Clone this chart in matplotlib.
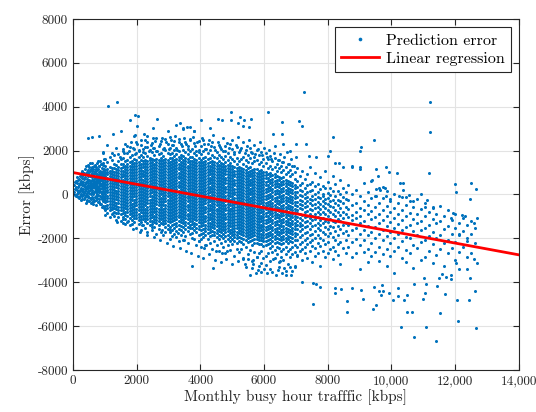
import matplotlib
matplotlib.use("Agg")
import matplotlib.pyplot as plt
import numpy as np

# scatter data, grouped in columns:
# (traffic in kbps, list of errors in tens of kbps)
left_cols = [
    (40, [12, 41]), (65, [27, 58, -4]), (90, [33, -8, 61]), (140, [22, 53, 4, 79]),
    (165, [36, 9, 67, -13]), (190, [44, 13, -17, 71]), (220, [51, 19, -6, 84]),
    (250, [62, 29, 3, 88, -26]), (275, [41, 14, 73, -21, 102]), (300, [18, 49, 82, -9, 109]),
    (325, [57, 26, 94, -4, 11]), (350, [38, 71, 8, -19, 97]), (380, [47, 78, 16, -11, 118, 33]),
    (410, [59, 27, 92, -3, -37, 128]), (435, [72, 39, 6, 104, -24, 56]),
    (460, [51, 83, 17, -12, 112]), (485, [28, 61, 93, -7, 134, 44]),
    (510, [68, 36, 7, 101, -28, 123]), (540, [53, 84, 21, -16, 113, 37, 142]),
    (570, [31, 62, 88, 2, -21, 118, -41]), (590, [67, 41, 97, 12, -33, 126]),
    (610, [48, 79, 19, 109, -11, 142]), (635, [36, 63, 89, 4, -19, 117, 51]),
    (660, [42, 71, 98, 9, -31, 131, 57]), (685, [77, 48, 106, 18, -12, 136, 29]),
    (710, [63, 91, 22, 117, -8, 37, -49]), (735, [43, 69, 96, 124, 9, -27, 57]),
    (760, [28, 53, 81, 112, 4, -18, 143, 69]), (785, [58, 87, 31, 118, -4, 152, 14, -36]),
    (810, [72, 101, 39, 11, 129, -33, 87]), (835, [39, 66, 94, 128, 17, -21, 81, 53]),
    (860, [47, 78, 108, 23, -7, 61, 152, -42]), (885, [71, 99, 46, 13, 137, -13, 84, -44]),
    (910, [39, 68, 92, 121, 3, -22, 29, -58]), (935, [52, 77, 109, 26, -6, 143, 64, 37]),
    (960, [58, 83, 103, 134, 14, -28, 42, 188, -51]),
    (985, [44, 69, 93, 118, 8, -17, 162, 31, -63]),
]

core_cols = [
    (1010, [163, 131, 112, 98, 85, 71, 58, 44, 31, 17, 4, -9, -23, -36, -51, -68, -92]),
    (1080, [147, 118, 104, 91, 77, 62, 49, 36, 22, 9, -5, -18, -32, -47, -61, -84, 224]),
    (1150, [172, 124, 109, 96, 82, 67, 54, 40, 27, 13, -1, -14, -28, -42, -57, -73, -101]),
    (1220, [155, 121, 106, 93, 80, 66, 51, 38, 24, 11, -3, -16, -30, -45, -59, -66, -88, 191]),
    (1290, [178, 141, 119, 103, 90, 76, 63, 48, 35, 21, 7, -6, -20, -33, -48, -62, -79, -97]),
    (1360, [134, 115, 101, 87, 74, 59, 46, 32, 18, 5, -8, -22, -37, -51, -64, -83, -118, 212]),
    (1430, [183, 152, 127, 111, 98, 84, 69, 56, 42, 28, 15, 1, -12, -26, -41, -55, -70, -86, -104]),
    (1500, [162, 139, 122, 108, 94, 81, 67, 52, 39, 25, 12, -2, -16, -29, -44, -58, -73, -91, -121]),
    (1570, [198, 168, 137, 123, 109, 95, 82, 68, 53, 40, 26, 13, -1, -15, -30, -43, -57, -72, -86, -103, -132]),
    (1640, [153, 131, 117, 102, 89, 75, 61, 47, 34, 20, 6, -7, -21, -35, -49, -63, -78, -93, -112, 231]),
    (1710, [189, 159, 141, 126, 113, 99, 85, 71, 58, 44, 30, 17, 3, -10, -24, -38, -53, -67, -82, -97, -124]),
    (1780, [216, 172, 146, 132, 118, 104, 90, 77, 63, 49, 36, 22, 8, -6, -19, -33, -48, -62, -76, -91, -108, -141]),
    (1850, [181, 152, 138, 124, 110, 96, 83, 69, 55, 41, 28, 14, 0, -13, -27, -42, -56, -71, -85, -99, -117, -134]),
    (1920, [207, 163, 143, 129, 115, 101, 88, 74, 60, 46, 33, 19, 5, -9, -23, -37, -51, -66, -80, -94, -109, -126, 268]),
    (1990, [238, 191, 158, 144, 130, 116, 102, 89, 75, 61, 47, 34, 20, 6, -8, -22, -36, -50, -64, -79, -93, -107, -151]),
    (2060, [196, 171, 149, 135, 121, 107, 94, 80, 66, 52, 39, 25, 11, -3, -17, -31, -45, -59, -73, -88, -102, -118, -133]),
    (2130, [227, 182, 156, 141, 127, 113, 99, 86, 72, 58, 44, 31, 17, 3, -11, -25, -39, -53, -68, -82, -96, -111, -127, -162]),
    (2200, [209, 169, 151, 137, 123, 109, 95, 82, 68, 54, 40, 27, 13, -1, -15, -29, -43, -57, -71, -86, -100, -114, -139]),
    (2270, [247, 188, 159, 145, 131, 117, 103, 90, 76, 62, 48, 35, 21, 7, -7, -21, -35, -49, -64, -78, -92, -106, -121, -152]),
    (2340, [218, 176, 153, 139, 125, 111, 97, 84, 70, 56, 42, 29, 15, 1, -13, -27, -41, -55, -70, -84, -98, -113, -129, -171]),
    (2410, [201, 166, 157, 143, 129, 115, 101, 88, 74, 60, 46, 33, 19, 5, -9, -23, -37, -51, -66, -80, -94, -108, -123, -141]),
    (2480, [236, 193, 161, 147, 133, 119, 105, 92, 78, 64, 50, 37, 23, 9, -5, -19, -33, -47, -62, -76, -90, -104, -119, -134, -163]),
    (2550, [212, 179, 155, 141, 127, 113, 99, 86, 72, 58, 44, 31, 17, 3, -11, -25, -39, -53, -68, -82, -96, -110, -124, -148]),
    (2620, [258, 198, 163, 149, 135, 121, 107, 94, 80, 66, 52, 39, 25, 11, -3, -17, -31, -45, -60, -74, -88, -102, -117, -131, -178]),
    (2690, [221, 183, 158, 144, 130, 116, 102, 89, 75, 61, 47, 34, 20, 6, -8, -22, -36, -50, -65, -79, -93, -107, -122, -138, -157]),
    (2760, [243, 187, 166, 152, 138, 124, 110, 97, 83, 69, 55, 42, 28, 14, 0, -14, -28, -42, -57, -71, -85, -99, -114, -129, -169]),
    (2830, [208, 176, 159, 145, 131, 117, 103, 90, 76, 62, 48, 35, 21, 7, -7, -21, -35, -49, -64, -78, -92, -106, -121, -136, -186]),
    (2900, [251, 201, 162, 148, 134, 120, 106, 93, 79, 65, 51, 38, 24, 10, -4, -18, -32, -46, -61, -75, -89, -103, -118, -132, -147, -173]),
    (2970, [229, 188, 157, 143, 129, 115, 101, 88, 74, 60, 46, 33, 19, 5, -9, -23, -37, -51, -66, -80, -94, -108, -123, -137, -158]),
    (3040, [262, 214, 183, 164, 149, 135, 121, 108, 94, 80, 67, 53, 39, 26, 12, -2, -16, -29, -43, -57, -70, -84, -98, -111, -126, -147, -171, -203]),
    (3110, [226, 191, 168, 152, 138, 124, 111, 97, 83, 70, 56, 42, 29, 15, 1, -13, -26, -40, -54, -67, -81, -95, -108, -123, -141, -163, -188]),
    (3180, [244, 203, 176, 157, 143, 129, 116, 102, 88, 75, 61, 47, 34, 20, 6, -8, -21, -35, -49, -62, -76, -90, -103, -118, -135, -152, -179]),
    (3250, [213, 186, 162, 147, 133, 120, 106, 92, 79, 65, 51, 38, 24, 10, -4, -17, -31, -45, -58, -72, -86, -99, -113, -130, -146, -167, -194, 318]),
    (3320, [251, 197, 171, 155, 141, 127, 114, 100, 86, 73, 59, 45, 32, 18, 4, -10, -23, -37, -51, -64, -78, -92, -105, -121, -138, -158, -212]),
    (3390, [232, 181, 165, 149, 135, 122, 108, 94, 81, 67, 53, 40, 26, 12, -2, -15, -29, -43, -56, -70, -84, -97, -111, -126, -144, -161, -184]),
    (3460, [204, 174, 158, 144, 130, 117, 103, 89, 76, 62, 48, 35, 21, 7, -7, -20, -34, -48, -61, -75, -89, -102, -116, -132, -149, -171, -207, 302]),
    (3530, [241, 193, 167, 151, 137, 124, 110, 96, 83, 69, 55, 42, 28, 14, 0, -13, -27, -41, -54, -68, -82, -95, -109, -124, -140, -157, -189]),
    (3600, [219, 183, 163, 146, 132, 119, 105, 91, 78, 64, 50, 37, 23, 9, -5, -18, -32, -46, -59, -73, -87, -100, -114, -129, -147, -166, -223]),
    (3670, [253, 199, 169, 153, 139, 126, 112, 98, 85, 71, 57, 44, 30, 16, 2, -11, -25, -39, -52, -66, -80, -93, -107, -122, -138, -154, -178]),
    (3740, [208, 172, 154, 140, 126, 113, 99, 85, 72, 58, 44, 31, 17, 3, -11, -24, -38, -52, -65, -79, -93, -106, -120, -136, -153, -174, -197]),
    (3810, [236, 189, 161, 147, 133, 120, 106, 92, 79, 65, 51, 38, 24, 10, -4, -17, -31, -45, -58, -72, -86, -99, -113, -128, -144, -162, -204, 291]),
    (3880, [199, 178, 157, 142, 128, 115, 101, 87, 74, 60, 46, 33, 19, 5, -9, -22, -36, -50, -63, -77, -91, -104, -118, -133, -151, -172, -231]),
    (3950, [243, 192, 164, 148, 134, 121, 107, 93, 80, 66, 52, 39, 25, 11, -3, -16, -30, -44, -57, -71, -85, -98, -112, -127, -142, -159, -183, -214]),
    (4020, [221, 183, 158, 142, 128, 115, 101, 87, 74, 60, 46, 33, 19, 5, -9, -22, -36, -50, -63, -77, -91, -104, -118, -132, -145, -161, -178, -203, -241]),
    (4090, [248, 197, 166, 147, 133, 120, 106, 92, 79, 65, 51, 38, 24, 10, -4, -17, -31, -45, -58, -72, -86, -99, -113, -127, -140, -157, -176, -194]),
    (4160, [207, 172, 151, 137, 123, 110, 96, 82, 69, 55, 41, 28, 14, 0, -14, -27, -41, -55, -68, -82, -96, -109, -123, -137, -152, -168, -187, -229]),
    (4230, [231, 188, 161, 144, 130, 117, 103, 89, 76, 62, 48, 35, 21, 7, -7, -20, -34, -48, -61, -75, -89, -102, -116, -130, -143, -159, -174, -202]),
    (4300, [201, 168, 146, 132, 118, 105, 91, 77, 64, 50, 36, 23, 9, -5, -19, -32, -46, -60, -73, -87, -101, -114, -128, -142, -156, -171, -190, -221, 302]),
    (4370, [238, 181, 154, 139, 125, 112, 98, 84, 71, 57, 43, 30, 16, 2, -12, -25, -39, -53, -66, -80, -94, -107, -121, -135, -149, -165, -183, -247]),
    (4440, [216, 173, 150, 135, 121, 108, 94, 80, 67, 53, 39, 26, 12, -2, -16, -29, -43, -57, -70, -84, -98, -111, -125, -139, -154, -170, -186, -211]),
    (4510, [192, 164, 143, 128, 114, 101, 87, 73, 60, 46, 32, 19, 5, -9, -23, -36, -50, -64, -77, -91, -105, -118, -132, -146, -160, -177, -193, -232]),
    (4580, [227, 178, 152, 136, 122, 109, 95, 81, 68, 54, 40, 27, 13, -1, -15, -28, -42, -56, -69, -83, -97, -110, -124, -138, -151, -167, -184, -202, -258]),
    (4650, [208, 169, 145, 130, 116, 103, 89, 75, 62, 48, 34, 21, 7, -7, -21, -34, -48, -62, -75, -89, -103, -116, -130, -144, -158, -173, -191, -223]),
    (4720, [196, 161, 139, 124, 110, 97, 83, 69, 56, 42, 28, 15, 1, -13, -27, -40, -54, -68, -81, -95, -109, -122, -136, -150, -164, -181, -199, -241]),
    (4790, [223, 177, 147, 132, 118, 105, 91, 77, 64, 50, 36, 23, 9, -5, -19, -32, -46, -60, -73, -87, -101, -114, -128, -142, -156, -170, -188, -214, -268]),
    (4860, [189, 158, 134, 120, 106, 93, 79, 65, 52, 38, 24, 11, -3, -17, -31, -44, -58, -72, -85, -99, -113, -126, -140, -154, -168, -184, -203, -232]),
    (4930, [228, 172, 143, 128, 114, 101, 87, 73, 60, 46, 32, 19, 5, -9, -23, -36, -50, -64, -77, -91, -105, -118, -132, -146, -160, -175, -193, -211, -251]),
    (5000, [209, 163, 131, 116, 102, 89, 75, 61, 48, 34, 20, 7, -7, -21, -35, -48, -62, -76, -89, -103, -117, -130, -144, -158, -172, -187, -204, -228]),
    (5070, [184, 151, 123, 109, 95, 82, 68, 54, 41, 27, 13, 0, -14, -28, -42, -55, -69, -83, -96, -110, -124, -137, -151, -165, -179, -195, -214, -281]),
    (5140, [218, 168, 137, 119, 105, 92, 78, 64, 51, 37, 23, 10, -4, -18, -32, -45, -59, -73, -86, -100, -114, -127, -141, -155, -169, -183, -199, -223, -247]),
    (5210, [193, 152, 126, 111, 97, 84, 70, 56, 43, 29, 15, 2, -12, -26, -40, -53, -67, -81, -94, -108, -122, -135, -149, -163, -177, -192, -211, -262]),
    (5280, [211, 161, 121, 107, 93, 80, 66, 52, 39, 25, 11, -2, -16, -30, -44, -57, -71, -85, -98, -112, -126, -139, -153, -167, -181, -197, -218, -249]),
    (5350, [172, 141, 117, 103, 89, 76, 62, 48, 35, 21, 7, -6, -20, -34, -48, -61, -75, -89, -102, -116, -130, -143, -157, -171, -185, -202, -227, -293]),
    (5420, [203, 157, 128, 112, 98, 85, 71, 57, 44, 30, 16, 3, -11, -25, -39, -52, -66, -80, -93, -107, -121, -134, -148, -162, -176, -191, -208, -238]),
    (5490, [181, 148, 119, 104, 90, 77, 63, 49, 36, 22, 8, -5, -19, -33, -47, -60, -74, -88, -101, -115, -129, -142, -156, -170, -184, -199, -216, -272]),
    (5560, [214, 166, 124, 109, 95, 82, 68, 54, 41, 27, 13, 0, -14, -28, -42, -55, -69, -83, -96, -110, -124, -137, -151, -165, -179, -193, -211, -252]),
    (5630, [187, 142, 112, 98, 84, 71, 57, 43, 30, 16, 2, -11, -25, -39, -53, -66, -80, -94, -107, -121, -135, -148, -162, -176, -190, -206, -229, -301]),
    (5700, [173, 151, 118, 101, 87, 74, 60, 46, 33, 19, 5, -8, -22, -36, -50, -63, -77, -91, -104, -118, -132, -145, -159, -173, -187, -203, -219, -261]),
    (5770, [201, 159, 114, 99, 85, 72, 58, 44, 31, 17, 3, -10, -24, -38, -52, -65, -79, -93, -106, -120, -134, -147, -161, -175, -189, -204, -223, -283]),
    (5840, [178, 139, 108, 94, 80, 67, 53, 39, 26, 12, -2, -15, -29, -43, -57, -70, -84, -98, -111, -125, -139, -152, -166, -180, -194, -209, -227, -268]),
    (5910, [192, 148, 111, 96, 82, 69, 55, 41, 28, 14, 0, -13, -27, -41, -55, -68, -82, -96, -109, -123, -137, -150, -164, -178, -192, -207, -224, -257, -311]),
    (5980, [163, 131, 101, 88, 74, 61, 47, 33, 20, 6, -8, -21, -35, -49, -63, -76, -90, -104, -117, -131, -145, -158, -172, -186, -200, -214, -233, -289]),
    (6050, [188, 142, 104, 88, 73, 57, 41, 26, 10, -6, -21, -37, -53, -68, -84, -100, -115, -131, -147, -162, -178, -194, -211, -232, -279]),
    (6120, [161, 121, 92, 77, 61, 45, 30, 14, -2, -17, -33, -49, -64, -80, -96, -111, -127, -143, -158, -174, -190, -206, -224, -268]),
    (6190, [177, 132, 98, 82, 66, 51, 35, 19, 4, -12, -28, -43, -59, -75, -90, -106, -122, -137, -153, -169, -184, -201, -219, -243, -302]),
    (6260, [152, 118, 88, 72, 56, 41, 25, 9, -6, -22, -38, -53, -69, -85, -100, -116, -132, -147, -163, -179, -195, -213, -236, -261]),
    (6330, [168, 127, 94, 79, 63, 47, 32, 16, 0, -15, -31, -47, -62, -78, -94, -109, -125, -141, -156, -172, -188, -203, -221, -251, -291]),
    (6400, [141, 109, 84, 68, 53, 37, 21, 6, -10, -26, -41, -57, -73, -88, -104, -120, -135, -151, -167, -182, -198, -216, -238, -273]),
    (6470, [159, 121, 81, 65, 49, 34, 18, 2, -13, -29, -45, -60, -76, -92, -107, -123, -139, -154, -170, -186, -201, -219, -243, -309]),
    (6540, [132, 102, 73, 58, 42, 26, 11, -5, -21, -36, -52, -68, -83, -99, -115, -130, -146, -162, -177, -193, -209, -226, -258, -284]),
    (6610, [149, 113, 78, 62, 46, 31, 15, -1, -16, -32, -48, -63, -79, -95, -110, -126, -142, -157, -173, -189, -204, -222, -247, -298]),
    (6680, [124, 93, 68, 53, 37, 21, 6, -10, -26, -41, -57, -73, -88, -104, -120, -135, -151, -167, -182, -198, -214, -238, -271]),
    (6750, [138, 101, 62, 47, 31, 15, 0, -16, -32, -47, -63, -79, -94, -110, -126, -141, -157, -173, -188, -204, -221, -256, -318]),
    (6820, [113, 84, 58, 42, 27, 11, -5, -20, -36, -52, -67, -83, -99, -114, -130, -146, -161, -177, -193, -212, -249, -287]),
    (6890, [129, 91, 53, 37, 22, 6, -10, -25, -41, -57, -72, -88, -104, -119, -135, -151, -166, -182, -198, -216, -241, -273]),
    (6960, [102, 72, 44, 29, 13, -3, -18, -34, -50, -65, -81, -97, -112, -128, -144, -159, -175, -191, -209, -231, -262, -331]),
]

mid_cols = [
    (7040, [121, 63, 34, 12, -11, -33, -52, -71, -84, -103, -121, -139, -158, -181, -207, -238, -276]),
    (7120, [83, 41, 19, -3, -24, -42, -61, -88, -107, -128, -146, -167, -196, -228, -259]),
    (7200, [109, 52, 14, -8, -29, -47, -68, -93, -118, -137, -158, -186, -217, -249, -297]),
    (7280, [71, 28, 3, -17, -38, -57, -79, -101, -126, -149, -177, -208, -239, -268]),
    (7360, [92, 43, 11, -12, -31, -53, -76, -97, -119, -142, -169, -198, -227, -288]),
    (7440, [127, 48, 17, -19, -41, -66, -88, -109, -131, -158, -187, -216, -257]),
    (7520, [58, 21, -7, -27, -49, -72, -96, -117, -146, -178, -206, -237, -306]),
    (7600, [98, 39, 2, -22, -44, -63, -87, -112, -139, -168, -197, -246, -279]),
    (7680, [47, 12, -13, -34, -58, -81, -101, -128, -152, -186, -219, -266]),
    (7760, [79, 27, -18, -42, -67, -91, -118, -138, -163, -199, -236, -327]),
    (7840, [38, 4, -9, -31, -53, -78, -107, -131, -172, -207, -258]),
    (7920, [107, 29, -21, -39, -62, -89, -121, -148, -179, -226, -287]),
    (8000, [57, 8, -14, -43, -71, -97, -126, -157, -188, -218, -268]),
    (8080, [31, -3, -28, -52, -82, -113, -142, -177, -247]),
    (8160, [86, 18, -23, -58, -87, -119, -149, -196, -238, -296]),
    (8240, [49, -7, -38, -69, -98, -127, -168, -207, -256]),
    (8320, [17, -24, -49, -81, -112, -146, -187, -226, -277]),
    (8400, [68, 3, -31, -61, -93, -121, -158, -217, -318]),
    (8480, [28, -12, -41, -79, -108, -139, -177, -246]),
    (8560, [9, -19, -57, -88, -128, -167, -209, -268]),
]

tail_cols = [
    (8650, [42, -27, -68, -103, -141, -187, -238]), (8770, [129, 4, -48, -92, -118, -161, -218, -287]),
    (8890, [21, -38, -81, -109, -152, -203, -266]), (9010, [118, -7, -61, -97, -131, -178, -229, -338]),
    (9130, [53, -29, -72, -121, -163, -207, -262]), (9250, [12, -47, -89, -142, -186, -248, -307]),
    (9370, [61, -18, -77, -113, -171, -223, -281]), (9490, [-9, -58, -102, -148, -197, -263]),
    (9610, [28, -41, -88, -131, -182, -238, -302]), (9730, [-17, -73, -118, -161, -208, -272]),
    (9850, [14, -52, -99, -143, -188, -247, -328]), (9970, [-28, -82, -127, -171, -223, -279]),
    (10090, [3, -61, -108, -152, -198, -257, -357]), (10210, [-38, -87, -133, -181, -238]),
    (10330, [-12, -69, -117, -163, -213, -291]), (10450, [-48, -98, -149, -192, -251, -308]),
    (10570, [-31, -83, -138, -197, -268]), (10690, [-57, -112, -168, -229, -337]),
    (10810, [-22, -91, -131, -183, -242]), (10930, [-68, -119, -162, -218, -297]),
    (11050, [-41, -97, -152, -207, -283]), (11170, [-79, -138, -191, -258]),
    (11290, [-62, -113, -171, -228, -312]), (11410, [-88, -131, -198, -276]),
    (11530, [-52, -121, -183, -247]), (11650, [-98, -158, -219, -327]),
    (11770, [-71, -142, -208, -268]), (11890, [-118, -179, -242]),
    (12010, [-91, -153, -217, -298]), (12130, [-128, -187, -261]),
    (12250, [-109, -168, -238]), (12370, [-141, -199, -287]),
    (12490, [-121, -182, -268]), (12610, [-153, -219]),
]

# single points outside the cloud (kbps, kbps)
upper_pts = [
    (1109, 4020), (1370, 4216), (460, 2590), (606, 2610), (826, 2667), (952, 1950),
    (1265, 2773), (1507, 2910), (1790, 3410), (1956, 3610), (2040, 3580), (2020, 3100),
    (1947, 2700), (2230, 2760), (2313, 2670), (2511, 3030), (2646, 3460), (2500, 2580),
    (2982, 2900), (3358, 3270), (3443, 3000), (3568, 3060), (3673, 3090), (3808, 2910),
    (4018, 3400), (4540, 3440), (4686, 3400), (4950, 3410), (4970, 3760), (5240, 3520),
    (5378, 3410), (5170, 3270), (5326, 3140), (5578, 3440), (5515, 3090), (6130, 3760),
    (6287, 2770), (6580, 3290), (6580, 2740), (6600, 2300), (6810, 1980), (7084, 3340),
    (7260, 4660), (11206, 4200), (11214, 2860), (11194, 970), (7190, 3120), (6990, 2290),
    (7310, 2290), (8170, 2610), (9460, 2490), (9000, 1995), (9040, 2180), (8085, 1980),
    (8010, 1760), (7420, 1745), (7620, 1720), (8220, 1450), (8360, 1420), (8490, 1250),
    (8770, 1270), (9010, 1240), (9520, 1150), (9820, 1270), (9920, 1040), (10170, 970),
    (9580, 855), (9390, 640), (10260, 520), (10350, 520), (10350, 210), (11990, 470),
    (12020, 100), (12500, 520), (12660, 240), (12460, -200), (10920, 20), (11110, -240),
    (11290, -560), (11060, -560), (9530, 250), (9630, 200), (9720, 330), (9800, 285),
    (10240, -70), (10450, -120), (10540, -30), (10680, -290), (9530, -50), (9840, -50),
    (9950, -210),
]

# loose points just above the dense band
upper_fringe = [
    (1480, 1720), (1560, 2050), (1620, 1880), (1690, 2230), (1750, 1960), (1830, 2380),
    (1880, 2110), (1940, 1830), (2010, 2290), (2080, 2010), (2150, 2470), (2190, 1940),
    (2260, 2180), (2330, 2390), (2380, 1990), (2440, 2240), (2530, 2120), (2580, 2430),
    (2650, 2000), (2720, 2310), (2790, 2560), (2850, 2140), (2930, 2380), (3010, 2070),
    (3070, 2490), (3140, 2260), (3210, 2680), (3270, 2030), (3340, 2410), (3420, 2190),
    (3490, 2560), (3550, 2310), (3620, 2080), (3690, 2470), (3760, 2640), (3830, 2220),
    (3900, 2410), (3970, 2010), (4050, 2560), (4120, 2290), (4190, 2080), (4260, 2470),
    (4340, 2200), (4410, 2690), (4470, 2030), (4550, 2390), (4620, 2150), (4700, 2580),
    (4770, 1990), (4840, 2330), (4910, 2110), (4990, 2470), (5060, 1930), (5120, 2250),
    (5190, 2610), (5260, 2020), (5330, 2380), (5400, 1880), (5460, 2190), (5540, 2470),
    (5600, 1950), (5670, 2260), (5730, 1830), (5800, 2090), (5870, 2390), (5940, 1790),
    (6010, 2130), (6080, 1700), (6150, 2010), (6230, 1620), (6300, 1890), (6360, 2210),
    (6430, 1560), (6510, 1840), (6570, 1480), (6640, 1720), (6710, 1930), (6780, 1390),
    (6860, 1610), (6930, 1280), (7000, 1720),
]

lower_pts = [
    (7530, -5000), (8590, -4860), (8610, -5370), (9120, -4770), (9430, -5230), (9510, -5030),
    (9610, -4380), (9660, -4600), (9740, -4420), (10060, -4810), (10220, -4640), (10400, -4800),
    (10480, -5360), (10650, -5360), (10290, -6030), (10710, -6500), (11100, -6040), (11410, -6700),
    (11540, -5400), (10990, -4770), (11050, -4510), (11100, -4090), (11440, -4160), (11680, -4540),
    (12070, -4790), (12080, -5780), (12430, -4800), (12650, -6090), (12610, -4420), (12460, -3810),
    (12380, -3410), (12600, -2950), (12700, -3140), (12110, -3410), (12040, -3140), (11860, -3670),
    (11860, -3870), (11940, -860), (11860, -1060), (12230, -935), (12310, -980), (12700, -1060),
    (12590, -1310), (12110, -1820), (12380, -2110), (7180, -3990), (7550, -4050), (7630, -4080),
    (7760, -4230), (8230, -4280), (8230, -4480), (8410, -4320), (8750, -4280), (9030, -4370),
    (9450, -4230), (9690, -4130), (9930, -4500), (10220, -4250), (10480, -4580), (10720, -4100),
    (11020, -3830), (11480, -3800), (11580, -3620), (11700, -3770), (3750, -3270), (4390, -3370),
    (3480, -2080), (5560, -3650), (5740, -3560), (5890, -3530), (6080, -3570), (6390, -3660),
    (6570, -3600), (6700, -3650), (6840, -3650), (5450, -3310), (5660, -3160), (5850, -3280),
    (6010, -3380), (6180, -3380), (6440, -3450), (6620, -3340), (6810, -3310), (6970, -3240),
    (5340, -2900), (5500, -2950), (5640, -2990), (5780, -2870), (6290, -2930), (6500, -3020),
    (7020, -2800), (4170, -2290), (4110, -2440), (4490, -2560), (4690, -2660), (4830, -2580),
    (3960, -2110), (3310, -1750), (3050, -1630), (2790, -1600), (2470, -1480), (2160, -1410),
    (1740, -1190), (1580, -1120), (1005, -710), (1265, -855), (640, -420), (450, -290),
]

# loose points just below the dense band
lower_fringe = [
    (1400, -1250), (1650, -1330), (1900, -1560), (2100, -1720), (2320, -1840), (2560, -1940),
    (2740, -2090), (2950, -2230), (3150, -2330), (3370, -2430), (3560, -2560), (3720, -2680),
    (3920, -2790), (4080, -2890), (4260, -2720), (4450, -2980), (4640, -3080), (4810, -2950),
    (4990, -3150), (5170, -3020), (5390, -3180), (5610, -3350), (5820, -3430), (6060, -3200),
    (6240, -3550), (6460, -3300), (6680, -3480), (6890, -3470),
]

# linear regression
reg_intercept = 1000
reg_slope = -0.268
reg_x = [0, 14000]

x_ticks = [0, 2000, 4000, 6000, 8000, 10000, 12000, 14000]
x_tick_labels = ['0', '2000', '4000', '6000', '8000', '10,000', '12,000', '14,000']
y_ticks = [-8000, -6000, -4000, -2000, 0, 2000, 4000, 6000, 8000]
y_tick_labels = ['-8000', '-6000', '-4000', '-2000', '0', '2000', '4000', '6000', '8000']

# flatten everything into x / y arrays
err_x, err_y = [], []
for cols in (left_cols, core_cols, mid_cols, tail_cols):
    for x, ys in cols:
        for y in ys:
            err_x.append(x)
            err_y.append(y * 10)
for x, y in upper_pts + upper_fringe + lower_pts + lower_fringe:
    err_x.append(x)
    err_y.append(y)
err_x = np.array(err_x)
err_y = np.array(err_y)

reg_x = np.array(reg_x)
reg_y = reg_intercept + reg_slope * reg_x

plt.rcParams['font.family'] = ['cmr10', 'DejaVu Serif']
plt.rcParams['axes.unicode_minus'] = False

fig = plt.figure(figsize=(5.36, 4.12), dpi=100)
ax = fig.add_axes([0.136, 0.102, 0.832, 0.852])

ax.plot(err_x, err_y, linestyle='none', marker='o', ms=2.2, mew=0,
        color='#0072BD', label='Prediction error')
ax.plot(reg_x, reg_y, color='#FF0000', lw=2, label='Linear regression')

ax.set_xlim(0, 14000)
ax.set_ylim(-8000, 8000)
ax.set_xticks(x_ticks)
ax.set_xticklabels(x_tick_labels)
ax.set_yticks(y_ticks)
ax.set_yticklabels(y_tick_labels)

ax.grid(True, color='#e3e3e3', lw=0.8)
ax.set_axisbelow(True)
ax.tick_params(direction='in', top=True, right=True, length=4,
               labelsize=9.5, colors='#262626', width=0.8)
for s in ax.spines.values():
    s.set_color('#262626')
    s.set_linewidth(0.8)

ax.set_xlabel('Monthly busy hour trafffic [kbps]', fontsize=11, color='#262626', labelpad=2)
ax.set_ylabel('Error [kbps]', fontsize=11, color='#262626', labelpad=2)

leg = ax.legend(loc='upper right', fontsize=11.5, fancybox=False, framealpha=1,
                edgecolor='#262626', borderpad=0.4, handlelength=2.4,
                handletextpad=0.4, labelspacing=0.25, markerscale=1.2)
leg.get_frame().set_linewidth(0.8)

fig.savefig('out.png', dpi=100)
